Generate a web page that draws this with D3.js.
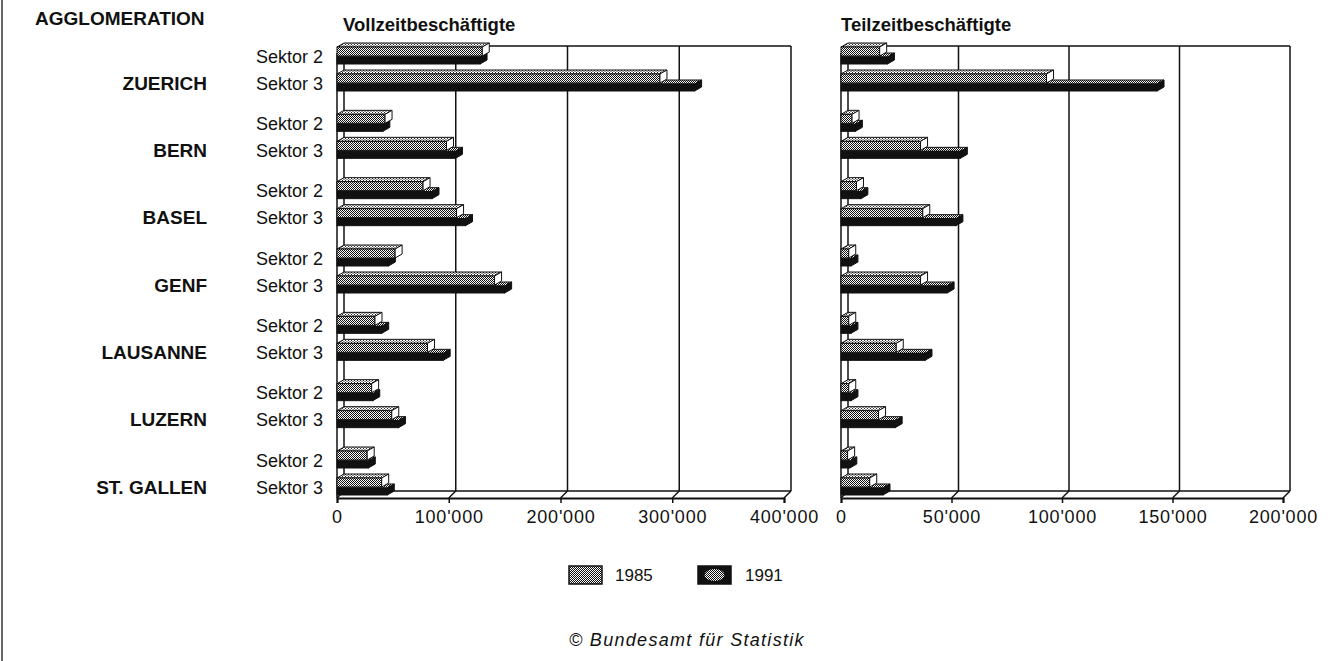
<!DOCTYPE html>
<html lang="de">
  <head>
    <meta charset='utf-8'>
    <script src='https://d3js.org/d3.v7.min.js'></script>
    <title>Beschäftigte nach Agglomeration</title>
    <style>
      body { margin: 0px; background: #fff; }
      text { font-family: "Liberation Sans", Arial, sans-serif; fill: #111; }
      .city, .head { font-weight: bold; font-size: 19px; }
      .title { font-weight: bold; font-size: 18.5px; }
      .sektor { font-size: 18px; }
      .tick text { font-size: 18px; letter-spacing: 0.8px; }
      .legend-label { font-size: 17px; }
      .source { font-size: 18px; font-style: italic; letter-spacing: 1.3px; }
    </style>
  </head>
  <body>
    <div id="chart"></div>
    <script>
      // data
      const cities = ['ZUERICH', 'BERN', 'BASEL', 'GENF', 'LAUSANNE', 'LUZERN', 'ST. GALLEN'];
      const sectors = ['Sektor 2', 'Sektor 3'];
      const years = ['1985', '1991'];

      // [Sektor 2, Sektor 3] per city
      const voll1985 = [[130000, 289000], [43000, 98000], [77000, 107000], [52000, 141000],
                        [34000, 81000], [31000, 49000], [27000, 40000]];
      const voll1991 = [[128000, 320000], [41000, 106000], [85000, 115000], [46000, 150000],
                        [40000, 95000], [32000, 55000], [28000, 45000]];
      const teil1985 = [[17500, 93000], [5000, 36000], [7000, 37000], [3500, 36000],
                        [3500, 25000], [3500, 17000], [3000, 13000]];
      const teil1991 = [[21000, 143000], [6500, 54000], [9000, 52000], [4500, 48000],
                        [4500, 38000], [4500, 24500], [4000, 19000]];

      const vollTicks = [0, 100000, 200000, 300000, 400000];
      const teilTicks = [0, 50000, 100000, 150000, 200000];

      const width = 1336, height = 661;
      const depth = 7;          // 3d offset of walls
      const barDepth = { x: 7, y: 4 };
      const floorY = 498, topY = 46;

      const fmt = d3.formatLocale({ decimal: '.', thousands: "'", grouping: [3], currency: ['', ''] }).format(',');

      const svg = d3.select('#chart').append('svg')
        .attr('width', width)
        .attr('height', height);

      svg.append('rect').attr('width', width).attr('height', height).attr('fill', '#fff');

      // stipple patterns
      const defs = svg.append('defs');
      const pat = defs.append('pattern')
        .attr('id', 'stip').attr('width', 2).attr('height', 2)
        .attr('patternUnits', 'userSpaceOnUse');
      pat.append('rect').attr('width', 2).attr('height', 2).attr('fill', '#fff');
      pat.append('rect').attr('width', 1).attr('height', 1).attr('fill', '#111');
      pat.append('rect').attr('x', 1).attr('y', 1).attr('width', 1).attr('height', 1).attr('fill', '#111');

      const pat2 = defs.append('pattern')
        .attr('id', 'stipLight').attr('width', 3).attr('height', 2)
        .attr('patternUnits', 'userSpaceOnUse');
      pat2.append('rect').attr('width', 3).attr('height', 2).attr('fill', '#fff');
      pat2.append('rect').attr('width', 1).attr('height', 1).attr('fill', '#222');
      pat2.append('rect').attr('x', 1.5).attr('y', 1).attr('width', 1).attr('height', 1).attr('fill', '#222');

      // page border of the scan
      svg.append('line')
        .attr('x1', 2).attr('x2', 2).attr('y1', 0).attr('y2', height)
        .attr('stroke', '#333').attr('stroke-width', 1.5);

      // rows: Sektor 3 line of each city, Sektor 2 sits above
      const yCity = d3.scalePoint().domain(cities).range([83, 487]);
      const ySektor = (city, s) => yCity(city) - (s === 0 ? 27 : 0);

      svg.append('text').attr('class', 'head')
        .attr('x', 35).attr('y', 25).text('AGGLOMERATION');

      svg.selectAll('.city').data(cities).enter().append('text')
        .attr('class', 'city')
        .attr('x', 207)
        .attr('y', d => yCity(d) + 6.5)
        .attr('text-anchor', 'end')
        .text(d => d);

      const rowLabels = [];
      cities.forEach(c => sectors.forEach((s, i) => rowLabels.push({ city: c, s: i, label: s })));
      svg.selectAll('.sektor').data(rowLabels).enter().append('text')
        .attr('class', 'sektor')
        .attr('x', 323)
        .attr('y', d => ySektor(d.city, d.s) + 6.5)
        .attr('text-anchor', 'end')
        .text(d => d.label);

      function box(g, x0, x1, yTop, h, fills) {
        const dx = barDepth.x, dy = barDepth.y;
        g.append('path')
          .attr('d', `M${x0},${yTop}L${x1},${yTop}L${x1 + dx},${yTop - dy}L${x0 + dx},${yTop - dy}Z`)
          .attr('fill', fills.top).attr('stroke', '#111').attr('stroke-width', 1);
        g.append('rect')
          .attr('x', x0).attr('y', yTop).attr('width', x1 - x0).attr('height', h)
          .attr('fill', fills.front).attr('stroke', '#111').attr('stroke-width', 1);
        g.append('path')
          .attr('d', `M${x1},${yTop}L${x1 + dx},${yTop - dy}L${x1 + dx},${yTop - dy + h}L${x1},${yTop + h}Z`)
          .attr('fill', fills.side).attr('stroke', '#111').attr('stroke-width', 1);
      }

      function panel(x, ticks, title, titleShift, s85, s91) {
        const g = svg.append('g');
        const x0 = x(0);
        const xMax = x(ticks[ticks.length - 1]);

        g.append('text').attr('class', 'title')
          .attr('x', x0 + titleShift).attr('y', 31).text(title);

        // back wall: top, grid lines
        g.append('line')
          .attr('x1', x0 + depth).attr('x2', xMax + depth)
          .attr('y1', topY).attr('y2', topY)
          .attr('stroke', '#111').attr('stroke-width', 1.5);
        g.selectAll('.grid').data(ticks).enter().append('line')
          .attr('class', 'grid')
          .attr('x1', d => x(d) + depth).attr('x2', d => x(d) + depth)
          .attr('y1', topY).attr('y2', floorY - depth)
          .attr('stroke', '#111').attr('stroke-width', 1.5);
        // left wall front edge
        g.append('line')
          .attr('x1', x0).attr('x2', x0)
          .attr('y1', topY + depth).attr('y2', floorY)
          .attr('stroke', '#111').attr('stroke-width', 1.5);
        // floor
        g.append('line')
          .attr('x1', x0 + depth).attr('x2', xMax + depth)
          .attr('y1', floorY - depth).attr('y2', floorY - depth)
          .attr('stroke', '#111').attr('stroke-width', 1.5);
        g.selectAll('.floor').data(ticks).enter().append('line')
          .attr('class', 'floor')
          .attr('x1', d => x(d)).attr('x2', d => x(d) + depth)
          .attr('y1', floorY).attr('y2', floorY - depth)
          .attr('stroke', '#111').attr('stroke-width', 1.5);

        // bars, 1991 behind, 1985 drawn over it
        cities.forEach((c, i) => {
          [0, 1].forEach(s => {
            const yc = ySektor(c, s);
            box(g, x0, x(s91[i][s]), yc + 1, 7, { front: '#111', top: 'url(#stip)', side: '#111' });
            box(g, x0, x(s85[i][s]), yc - 9, 9, { front: 'url(#stip)', top: 'url(#stipLight)', side: '#fff' });
          });
        });

        // front axis
        const axis = d3.axisBottom(x)
          .tickValues(ticks)
          .tickFormat(fmt)
          .tickSize(5)
          .tickPadding(7);
        const ag = g.append('g')
          .attr('transform', `translate(0,${floorY})`)
          .call(axis);
        ag.attr('font-size', null).attr('font-family', null);
        ag.select('.domain').attr('stroke', '#111').attr('stroke-width', 2);
        ag.selectAll('.tick line').attr('stroke', '#111').attr('stroke-width', 1.5);
        ag.selectAll('.tick text').attr('fill', '#111');
      }

      const xVoll = d3.scaleLinear().domain([0, 400000]).range([337, 784]);
      const xTeil = d3.scaleLinear().domain([0, 200000]).range([841, 1283]);

      panel(xVoll, vollTicks, 'Vollzeitbeschäftigte', 6, voll1985, voll1991);
      panel(xTeil, teilTicks, 'Teilzeitbeschäftigte', 0, teil1985, teil1991);

      // legend
      const legX = d3.scalePoint().domain(years).range([569, 698]);
      const leg = svg.selectAll('.legend').data(years).enter().append('g')
        .attr('class', 'legend')
        .attr('transform', d => `translate(${legX(d)},566)`);
      leg.append('rect')
        .attr('width', 33).attr('height', 18)
        .attr('fill', d => d === '1985' ? 'url(#stip)' : '#111')
        .attr('stroke', '#111').attr('stroke-width', 1.5);
      leg.filter(d => d === '1991').append('ellipse')
        .attr('cx', 16.5).attr('cy', 9).attr('rx', 10).attr('ry', 6)
        .attr('fill', 'url(#stip)');
      leg.append('text')
        .attr('class', 'legend-label')
        .attr('x', d => d === '1985' ? 46 : 47)
        .attr('y', 15)
        .text(d => d);

      svg.append('text').attr('class', 'source')
        .attr('x', 569).attr('y', 646)
        .text('© Bundesamt für Statistik');
    </script>
  </body>
</html>
